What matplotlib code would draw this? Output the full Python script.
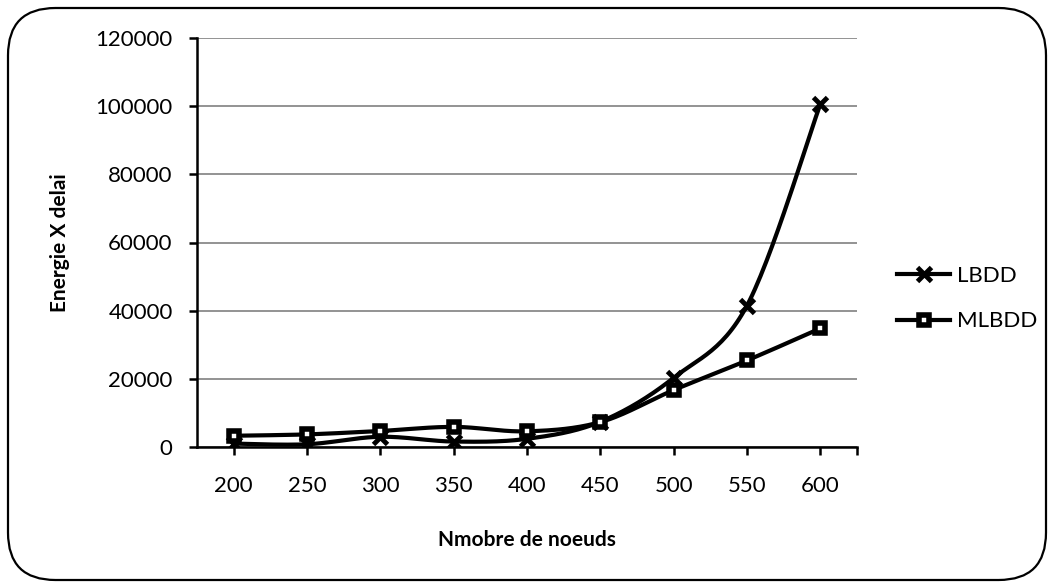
import numpy as np
import matplotlib.pyplot as plt
from matplotlib.patches import FancyBboxPatch

plt.rcParams['font.family'] = ['Lato', 'DejaVu Sans']

# données
noeuds = ['200', '250', '300', '350', '400', '450', '500', '550', '600']
lbdd = [1000, 800, 3000, 1600, 2400, 7400, 20300, 41500, 100600]
mlbdd = [3300, 3700, 4700, 5900, 4600, 7300, 16700, 25400, 34800]


# courbe lissée (Catmull-Rom -> Bezier) comme le "lissage" d'Excel
def lisser(x, y, n=30):
    x = np.asarray(x, float)
    y = np.asarray(y, float)
    px = np.concatenate([[x[0]], x, [x[-1]]])
    py = np.concatenate([[y[0]], y, [y[-1]]])
    xs, ys = [], []
    t = np.linspace(0, 1, n)
    for i in range(1, len(px) - 2):
        p0 = np.array([px[i], py[i]])
        p3 = np.array([px[i + 1], py[i + 1]])
        p1 = p0 + (np.array([px[i + 1], py[i + 1]]) - np.array([px[i - 1], py[i - 1]])) / 6
        p2 = p3 - (np.array([px[i + 2], py[i + 2]]) - np.array([px[i], py[i]])) / 6
        b = ((1 - t) ** 3)[:, None] * p0 + (3 * (1 - t) ** 2 * t)[:, None] * p1 \
            + (3 * (1 - t) * t ** 2)[:, None] * p2 + (t ** 3)[:, None] * p3
        xs.extend(b[:, 0])
        ys.extend(b[:, 1])
    return np.array(xs), np.array(ys)


W, H = 1054, 588
fig = plt.figure(figsize=(W / 100, H / 100), dpi=100)

# cadre arrondi autour du graphique
cadre = FancyBboxPatch((8 / W, 8 / H), 1038 / W, 572 / H,
                       boxstyle="round,pad=0,rounding_size=0.045",
                       transform=fig.transFigure, fill=False,
                       edgecolor='black', linewidth=1.6, mutation_aspect=W / H)
fig.patches.append(cadre)

ax = fig.add_axes([197 / W, 141 / H, 660 / W, 409 / H])
x = np.arange(len(noeuds))

style_x = dict(marker='x', markersize=10, mew=3.5, color='black')
style_carre = dict(marker='s', markersize=7.5, mew=4, mfc='white', mec='black', color='black')

sx, sy = lisser(x, lbdd)
ax.plot(sx, sy, color='black', linewidth=3, zorder=3)
ax.plot(x, lbdd, linestyle='none', zorder=4, **style_x)
sx, sy = lisser(x, mlbdd)
ax.plot(sx, sy, color='black', linewidth=3, zorder=3)
ax.plot(x, mlbdd, linestyle='none', zorder=5, **style_carre)

# légende
ax.plot([], [], linewidth=3, label='LBDD', **style_x)
ax.plot([], [], linewidth=3, label='MLBDD', **style_carre)
ax.legend(loc='center left', bbox_to_anchor=(897 / W, (H - 298.5) / H),
          bbox_transform=fig.transFigure, frameon=False, borderpad=0,
          borderaxespad=0, fontsize=16, handlelength=2.4, handletextpad=0.3,
          labelspacing=1.15)

ax.set_xlim(-0.5, len(noeuds) - 0.5)
ax.set_ylim(0, 120000)
ax.set_yticks(np.arange(0, 120001, 20000))
ax.set_xticks(x)
ax.set_xticklabels(noeuds)
ax.set_xticks([len(noeuds) - 0.5], minor=True)
ax.grid(axis='y', color='#8a8a8a', linewidth=1.3)
ax.set_axisbelow(True)

for s in ['top', 'right']:
    ax.spines[s].set_visible(False)
for s in ['left', 'bottom']:
    ax.spines[s].set_linewidth(1.8)
ax.tick_params(axis='both', which='both', direction='out', length=5.5, width=1.8,
               labelsize=16)
ax.tick_params(axis='y', pad=12)
ax.tick_params(axis='x', pad=15.5)

ax.set_xlabel('Nmobre de noeuds', fontsize=15, fontweight='bold')
ax.set_ylabel('Energie X delai', fontsize=15, fontweight='bold')
ax.xaxis.set_label_coords(0.5, (447 - 530) / 409)
ax.yaxis.set_label_coords((70 - 197) / 660, 0.5)

fig.savefig('out.png', dpi=100)
